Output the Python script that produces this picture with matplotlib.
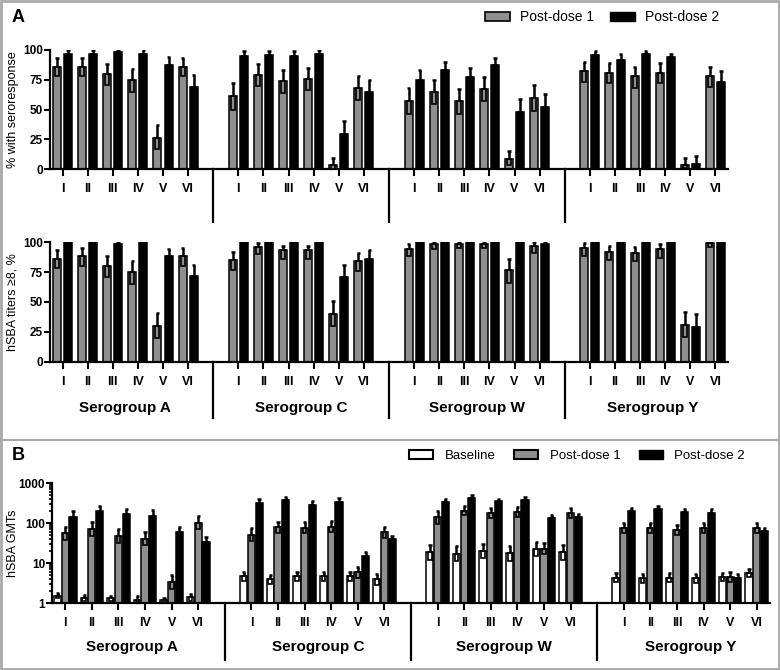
import numpy as np
import matplotlib
matplotlib.use("Agg")
import matplotlib.pyplot as plt
from matplotlib.patches import Patch, Rectangle
from matplotlib.lines import Line2D

plt.rcParams['font.family'] = ['Liberation Sans', 'DejaVu Sans']

GROUPS = ["Serogroup A", "Serogroup C", "Serogroup W", "Serogroup Y"]
STUDIES = ["I", "II", "III", "IV", "V", "VI"]

# Panel A top: % with seroresponse, order A I..VI, C I..VI, W I..VI, Y I..VI
SERO_PD1 = [86, 86, 80, 75, 26, 86, 61, 79, 74, 76, 3, 68, 57, 65, 57, 67, 8, 60, 82, 81, 78, 81, 3, 78]
SERO_PD1_LO = [78, 78, 71, 65, 17, 78, 50, 70, 64, 66, 0, 58, 46, 55, 46, 57, 3, 49, 73, 72, 68, 72, 1, 69]
SERO_PD1_HI = [93, 93, 88, 84, 37, 93, 72, 88, 83, 85, 9, 78, 68, 75, 67, 77, 15, 71, 90, 89, 86, 89, 9, 86]
SERO_PD2 = [97, 97, 98, 97, 87, 69, 95, 96, 95, 97, 29, 65, 75, 83, 77, 87, 48, 52, 96, 92, 97, 94, 4, 73]
SERO_PD2_LO = [92, 92, 94, 92, 78, 58, 90, 91, 90, 92, 20, 55, 65, 74, 68, 79, 37, 42, 91, 86, 92, 88, 1, 63]
SERO_PD2_HI = [100, 100, 100, 100, 94, 79, 99, 99, 99, 100, 40, 75, 83, 90, 85, 93, 59, 63, 99, 97, 99, 97, 11, 82]

# Panel A bottom: hSBA titers >=8, %
TITER_PD1 = [86, 88, 80, 75, 30, 88, 85, 96, 93, 93, 40, 84, 94, 98, 98, 98, 77, 97, 95, 92, 91, 94, 31, 99]
TITER_PD1_LO = [78, 80, 71, 65, 20, 80, 77, 90, 86, 86, 30, 76, 88, 94, 95, 95, 66, 91, 88, 85, 84, 87, 21, 96]
TITER_PD1_HI = [93, 95, 88, 84, 41, 95, 92, 99, 97, 97, 51, 91, 98, 100, 100, 100, 86, 100, 99, 97, 96, 98, 42, 100]
TITER_PD2 = [100, 100, 98, 100, 88, 72, 100, 100, 100, 100, 71, 86, 100, 100, 100, 100, 100, 98, 100, 100, 100, 100, 29, 100]
TITER_PD2_LO = [100, 100, 95, 100, 80, 62, 100, 100, 100, 100, 61, 78, 100, 100, 100, 100, 100, 95, 100, 100, 100, 100, 19, 100]
TITER_PD2_HI = [100, 100, 100, 100, 94, 81, 100, 100, 100, 100, 81, 93, 100, 100, 100, 100, 100, 100, 100, 100, 100, 100, 40, 100]

# Panel B: hSBA GMTs
GMT_BASE = [1.5, 1.3, 1.3, 1.2, 1.2, 1.4, 4.7, 3.9, 4.7, 4.7, 4.7, 3.9, 18.5, 17, 20, 17.5, 22, 19, 4.3, 4.1, 4.3, 4.1, 4.5, 5.7]
GMT_BASE_LO = [1.3, 1.1, 1.1, 1.05, 1.05, 1.15, 3.6, 3.0, 3.6, 3.6, 3.6, 2.9, 12, 11, 13, 11, 15, 12, 3.4, 3.2, 3.4, 3.2, 3.6, 4.5]
GMT_BASE_HI = [1.75, 1.6, 1.5, 1.5, 1.35, 1.7, 6.1, 5.0, 6.0, 6.0, 6.1, 5.3, 28, 26, 30, 27, 33, 29, 5.5, 5.3, 5.5, 5.3, 5.6, 7.2]
GMT_PD1 = [55, 71, 47, 40, 3.4, 102, 51, 78, 76, 81, 5.8, 58, 138, 204, 174, 192, 23, 178, 76, 76, 67, 76, 4.5, 76]
GMT_PD1_LO = [38, 48, 31, 28, 2.3, 70, 36, 56, 55, 58, 4.2, 42, 94, 157, 131, 144, 17, 134, 57, 57, 50, 57, 3.4, 57]
GMT_PD1_HI = [81, 106, 72, 59, 5, 150, 74, 108, 106, 114, 8, 81, 204, 265, 232, 256, 31, 237, 101, 101, 90, 101, 6, 101]
GMT_PD2 = [144, 204, 165, 153, 60, 34, 310, 375, 276, 340, 15, 39, 341, 430, 347, 376, 131, 144, 195, 219, 185, 175, 4.2, 62]
GMT_PD2_LO = [104, 153, 120, 111, 44, 25, 248, 308, 215, 275, 12, 32, 286, 362, 296, 309, 111, 122, 160, 181, 150, 140, 3.4, 51]
GMT_PD2_HI = [199, 272, 228, 211, 81, 45, 388, 457, 355, 420, 19, 48, 407, 510, 407, 457, 155, 170, 237, 265, 228, 218, 5.2, 76]

GRAY = "#8f8f8f"
W, H = 780, 670


def _slots():
    return np.array([7 * g + s for g in range(len(GROUPS)) for s in range(len(STUDIES))], dtype=float)


def _ax_rect(x0, x1, ytop, ybot):
    return [x0 / W, 1 - ybot / H, (x1 - x0) / W, (ybot - ytop) / H]


def _draw_series(ax, x, vals, los, his, color, width, boxw, base=0):
    vals, los, his = np.array(vals, float), np.array(los, float), np.array(his, float)
    ax.bar(x, vals - base, width, bottom=base, color=color, edgecolor="black", linewidth=1.1, zorder=2)
    ax.bar(x, vals - los, boxw, bottom=los, color=color, edgecolor="black", linewidth=1.2, zorder=3)
    up = his > vals
    ax.vlines(x[up], vals[up], his[up], color="black", linewidth=1.8, zorder=3)
    ax.hlines(his[up], x[up] - boxw * 0.45, x[up] + boxw * 0.45, color="black", linewidth=1.8, zorder=3)


def _style_axis(ax, sep_len):
    for side in ["top", "right"]:
        ax.spines[side].set_visible(False)
    for side in ["left", "bottom"]:
        ax.spines[side].set_linewidth(1.6)
    ax.set_xlim(-0.5, 26.5)
    ax.set_xticks(_slots())
    ax.set_xticklabels(STUDIES * len(GROUPS), fontsize=9, fontweight="bold")
    ax.tick_params(axis="x", direction="out", length=5, width=1.5, pad=5)
    ax.tick_params(axis="y", direction="out", length=4, width=1.5, labelsize=8.5, pad=1)
    for lab in ax.get_yticklabels():
        lab.set_fontweight("bold")
    trans = ax.get_xaxis_transform()
    for xs in [6, 13, 20]:
        ax.add_line(Line2D([xs, xs], [0, -sep_len], transform=trans, color="black",
                           linewidth=1.6, clip_on=False))


def _group_labels(ax, ypos):
    trans = ax.get_xaxis_transform()
    for g, name in enumerate(GROUPS):
        ax.text(7 * g + 2.5, ypos, name, transform=trans, ha="center", va="center",
                fontsize=11, fontweight="bold")


def _panel_a_axis(ax, pd1, pd1_lo, pd1_hi, pd2, pd2_lo, pd2_hi, ylabel, sep_len):
    x = _slots()
    _draw_series(ax, x - 0.22, pd1, pd1_lo, pd1_hi, GRAY, 0.32, 0.16)
    _draw_series(ax, x + 0.22, pd2, pd2_lo, pd2_hi, "black", 0.32, 0.16)
    ax.set_ylim(0, 100)
    ax.set_yticks([0, 25, 50, 75, 100])
    ax.set_ylabel(ylabel, fontsize=9)
    _style_axis(ax, sep_len)


def main():
    fig = plt.figure(figsize=(7.8, 6.7), dpi=100)

    ax1 = fig.add_axes(_ax_rect(50, 728, 50, 169))
    _panel_a_axis(ax1, SERO_PD1, SERO_PD1_LO, SERO_PD1_HI, SERO_PD2, SERO_PD2_LO, SERO_PD2_HI,
                  "% with seroresponse", 0.445)

    ax2 = fig.add_axes(_ax_rect(50, 728, 242, 362))
    _panel_a_axis(ax2, TITER_PD1, TITER_PD1_LO, TITER_PD1_HI, TITER_PD2, TITER_PD2_LO, TITER_PD2_HI,
                  "hSBA titers \u22658, %", 0.47)
    _group_labels(ax2, -0.385)

    ax3 = fig.add_axes(_ax_rect(52, 770, 483, 603))
    x = _slots()
    _draw_series(ax3, x - 0.29, GMT_BASE, GMT_BASE_LO, GMT_BASE_HI, "white", 0.27, 0.14, base=1)
    _draw_series(ax3, x, GMT_PD1, GMT_PD1_LO, GMT_PD1_HI, GRAY, 0.27, 0.14, base=1)
    _draw_series(ax3, x + 0.29, GMT_PD2, GMT_PD2_LO, GMT_PD2_HI, "black", 0.27, 0.14, base=1)
    ax3.set_yscale("log")
    ax3.set_ylim(1, 1000)
    ax3.set_yticks([1, 10, 100, 1000])
    ax3.set_yticklabels(["1", "10", "100", "1000"])
    ax3.tick_params(axis="y", which="minor", direction="out", length=2.5, width=1.2)
    ax3.set_ylabel("hSBA GMTs", fontsize=9)
    _style_axis(ax3, 0.475)
    _group_labels(ax3, -0.37)

    ax1.yaxis.set_label_coords(-31 / 678, 0.5)
    ax2.yaxis.set_label_coords(-31 / 678, 0.5)
    ax3.yaxis.set_label_coords(-33 / 718, 0.5)

    # panel letters, frame and divider
    fig.text(12 / W, 1 - 18 / H, "A", fontsize=13, fontweight="bold", va="center")
    fig.text(12 / W, 1 - 455 / H, "B", fontsize=13, fontweight="bold", va="center")
    fig.add_artist(Rectangle((0.001, 0.001), 0.998, 0.998, transform=fig.transFigure, fill=False,
                             edgecolor="#a8a8a8", linewidth=2))
    fig.add_artist(Line2D([0, 1], [1 - 440 / H] * 2, transform=fig.transFigure, color="#a8a8a8",
                          linewidth=1.5))

    leg_a = [Patch(facecolor=GRAY, edgecolor="black", linewidth=1.2, label="Post-dose 1"),
             Patch(facecolor="black", edgecolor="black", label="Post-dose 2")]
    fig.legend(handles=leg_a, loc="center left", bbox_to_anchor=(485 / W, 1 - 17 / H), ncol=2,
               frameon=False, fontsize=10, handlelength=1.8, handleheight=0.6, handletextpad=0.72,
               columnspacing=1.15, borderpad=0, borderaxespad=0)

    leg_b = [Patch(facecolor="white", edgecolor="black", linewidth=1.5, label="Baseline"),
             Patch(facecolor=GRAY, edgecolor="black", linewidth=1.5, label="Post-dose 1"),
             Patch(facecolor="black", edgecolor="black", label="Post-dose 2")]
    fig.legend(handles=leg_b, loc="center left", bbox_to_anchor=(409 / W, 1 - 456 / H), ncol=3,
               frameon=False, fontsize=9.5, handlelength=1.8, handleheight=0.6, handletextpad=0.9,
               columnspacing=1.4, borderpad=0, borderaxespad=0)

    fig.savefig("out.png", dpi=100)


if __name__ == "__main__":
    main()
